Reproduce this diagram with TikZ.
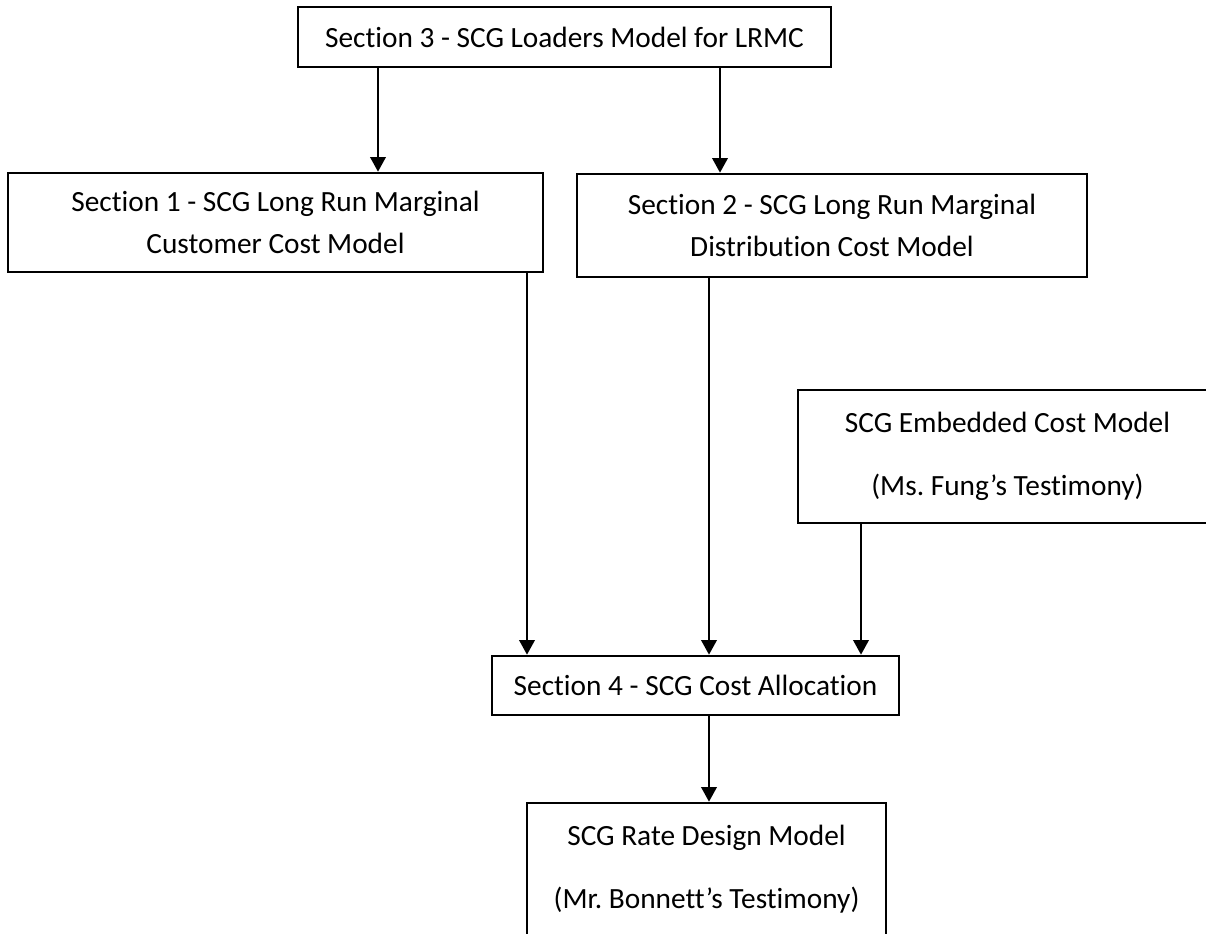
\documentclass[tikz,border=0pt]{standalone}
\usepackage{fontspec}
\setmainfont{Carlito}[RawFeature=-liga]
\usetikzlibrary{arrows.meta}
\begin{document}
\begin{tikzpicture}[
      x=0.75pt, y=-0.75pt,
      box/.style={draw, line width=1.9pt, inner sep=0pt, align=center,
                  font=\fontsize{22}{31.5}\selectfont, text=black},
      wide/.style={box, font=\fontsize{22}{47}\selectfont},
      arr/.style={line width=1.9pt, -{Triangle[width=11.5pt,length=11pt]}}
    ]
      \useasboundingbox (0,0) rectangle (1206,934);
      \clip (0,0) rectangle (1206,934);
      \node[box, minimum width=399.75pt, minimum height=45pt] (sec3) at (564.5,37)
        {Section 3 - SCG Loaders Model for LRMC};
      \node[box, minimum width=401.25pt, minimum height=74.25pt] (sec1) at (275.5,222.5)
        {Section 1 - SCG Long Run Marginal\\Customer Cost Model};
      \node[box, minimum width=382.5pt, minimum height=77.25pt] (sec2) at (832,225.5)
        {Section 2 - SCG Long Run Marginal\\Distribution Cost Model};
      \node[wide, minimum width=314.25pt, minimum height=99.75pt] (embed) at (1007.5,456.5)
        {SCG Embedded Cost Model\\(Ms.\ Fung’s Testimony)};
      \node[box, minimum width=305.25pt, minimum height=44.25pt] (sec4) at (695.5,685.5)
        {Section 4 - SCG Cost Allocation};
      \node[wide, minimum width=269.25pt, minimum height=99pt] (rate) at (706.5,869)
        {SCG Rate Design Model\\(Mr.\ Bonnett’s Testimony)};
      \coordinate (c1) at (378,0);
      \coordinate (c2) at (720,0);
      \coordinate (c3) at (527,0);
      \coordinate (c4) at (709,0);
      \coordinate (c5) at (861,0);
      \draw[arr] (c1 |- sec3.south) -- (c1 |- sec1.north);
      \draw[arr] (c2 |- sec3.south) -- (c2 |- sec2.north);
      \draw[arr] (c3 |- sec1.south) -- (c3 |- sec4.north);
      \draw[arr] (c4 |- sec2.south) -- (c4 |- sec4.north);
      \draw[arr] (c5 |- embed.south) -- (c5 |- sec4.north);
      \draw[arr] (c4 |- sec4.south) -- (c4 |- rate.north);
    \end{tikzpicture}
\end{document}
